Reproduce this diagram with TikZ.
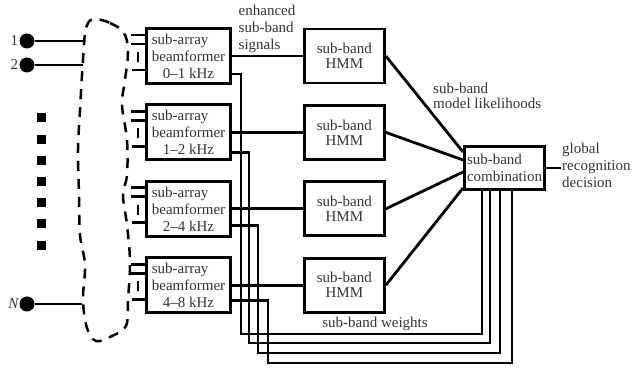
\documentclass[tikz,border=0pt]{standalone}
\usepackage{fontspec}
\setmainfont{Liberation Serif}
\usetikzlibrary{positioning}

\begin{document}
\begin{tikzpicture}[x=1pt, y=-1pt,
  box/.style={draw=black, text=black!80, line width=2.9pt, inner sep=2pt,
              font=\fontsize{15}{17}\selectfont},
  bfbox/.style={box, minimum width=84pt, minimum height=55pt, align=left},
  hmmbox/.style={box, minimum width=80pt, minimum height=54pt, align=center,
                 font=\fontsize{15}{15}\selectfont},
  lbl/.style={inner sep=1pt, text=black!80, align=left,
              font=\fontsize{15}{17}\selectfont},
  wire/.style={line width=2.8pt},
  dot/.style={circle, fill, inner sep=0pt, minimum size=15pt},
  node distance=18.5pt]

  \useasboundingbox (0,0) rectangle (633,371);

  % sub-array beamformers
  \node[bfbox] (bf1) at (188.5,56) {sub-array\\beamformer\\\hspace*{11pt}0--1 kHz};
  \node[bfbox, below=of bf1] (bf2) {sub-array\\beamformer\\\hspace*{11pt}1--2 kHz};
  \node[bfbox, below=of bf2] (bf3) {sub-array\\beamformer\\\hspace*{11pt}2--4 kHz};
  \node[bfbox, below=of bf3] (bf4) {sub-array\\beamformer\\\hspace*{11pt}4--8 kHz};

  % sub-band recognisers
  \node[hmmbox, right=71pt of bf1] (hmm1) {sub-band\\HMM};
  \node[hmmbox, right=71pt of bf2] (hmm2) {sub-band\\HMM};
  \node[hmmbox, right=71pt of bf3] (hmm3) {sub-band\\HMM};
  \node[hmmbox, right=71pt of bf4] (hmm4) {sub-band\\HMM};

  \node[box, minimum width=80pt, minimum height=43pt, align=left] (comb)
    at (504.5,168) {sub-band\\combination};

  % labels
  \node[lbl, anchor=north west] (sig) at (237.5,4) {enhanced\\sub-band\\signals};
  \node[lbl, anchor=north west, font=\fontsize{15}{15}\selectfont] (lik)
    at (432,82) {sub-band\\model likelihoods};
  \node[lbl, anchor=north west] (dec) at (561,142) {global\\recognition\\decision};
  \node[lbl, anchor=north] (wts) at (375,316) {sub-band weights};

  % microphones
  \node[dot, label={[lbl]left:1}] (in1) at (27,41) {};
  \node[dot, label={[lbl]left:2}] (in2) at (27,65) {};
  \node[dot, label={[lbl, inner sep=0pt]left:\textit{N}}] (inN) at (27,304) {};
  \coordinate (c1) at (83,41);
  \coordinate (c2) at (83,65);
  \coordinate (cN) at (82,304);
  \draw[wire] (in1) -- (c1);
  \draw[wire] (in2) -- (c2);
  \draw[wire] (inN) -- (cN);
  \foreach \k in {0,...,6}
    \fill (37,113.5+21.2*\k) rectangle ++(8.5,9);

  % array grouping
  \draw[line width=2.5pt, dash pattern=on 10pt off 8pt]
    plot[smooth cycle, tension=0.6] coordinates {
      (93,19) (110,23) (124,33) (128,52) (125,80) (122,105) (127,140)
      (127,175) (123,195) (127,225) (130,262) (128,300) (126,326)
      (112,336) (96,341) (87,328) (83,300) (85,265) (80,235) (79,195)
      (78,150) (80,110) (82,75) (84,45) (86,28)};

  % channel stubs into each beamformer
  \foreach \b in {bf1,bf2,bf3,bf4} {
    \draw[wire] ([yshift=21pt]\b.west) -- ++(-14,0);
    \draw[wire] ([yshift=12pt]\b.west) -- ++(-14,0);
    \draw[wire] ([yshift=-14pt]\b.west) -- ++(-13,0);
    \draw[wire] ([xshift=-7pt,yshift=4pt]\b.west) -- ++(0,10);
  }

  % signals and likelihoods
  \draw[wire] (bf1.east) -- (hmm1.west);
  \draw[wire] (bf2.east) -- (hmm2.west);
  \draw[wire] (bf3.east) -- (hmm3.west);
  \draw[wire] (bf4.east) -- (hmm4.west);
  \draw[wire] (hmm1.east) -- ([yshift=16pt]comb.west);
  \draw[wire] (hmm2.east) -- ([yshift=8pt]comb.west);
  \draw[wire] (hmm3.east) -- ([yshift=-4pt]comb.west);
  \draw[wire] (hmm4.east) -- ([yshift=-20pt]comb.west);
  \draw[wire] (comb.east) -- (comb.east -| dec.west);

  % sub-band weights
  \draw[wire] ([yshift=-18pt]bf1.east) -| (241,334) -| ([xshift=-22.5pt]comb.south);
  \draw[wire] ([yshift=-20pt]bf2.east) -| (249,343) -| ([xshift=-14.5pt]comb.south);
  \draw[wire] ([yshift=-16.5pt]bf3.east) -| (258,353) -| ([xshift=-4.5pt]comb.south);
  \draw[wire] ([yshift=-15.5pt]bf4.east) -| (268,363) -| ([xshift=7.5pt]comb.south);
\end{tikzpicture}
\end{document}
